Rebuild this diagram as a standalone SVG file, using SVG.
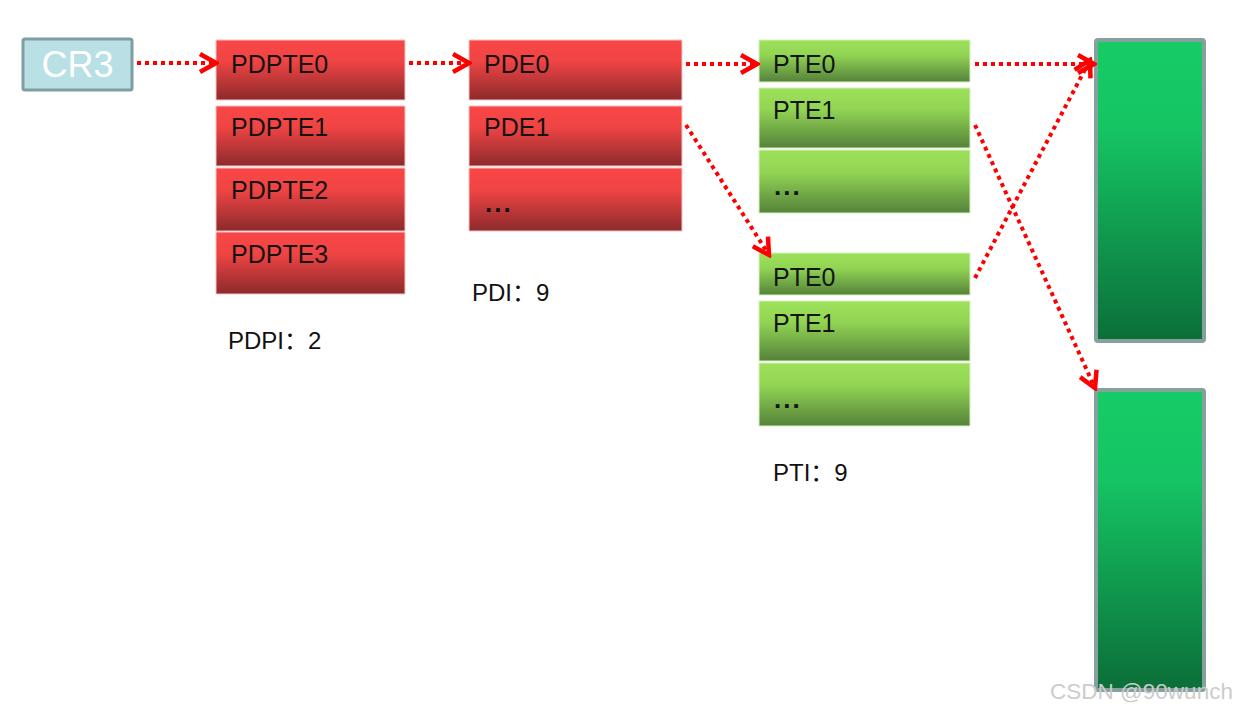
<svg xmlns="http://www.w3.org/2000/svg" width="1236" height="711" viewBox="0 0 1236 711">
<defs>
<linearGradient id="gRed" x1="0" y1="0" x2="0" y2="1">
<stop offset="0" stop-color="#fa4646"/>
<stop offset="0.35" stop-color="#f04444"/>
<stop offset="1" stop-color="#8c2a2c"/>
</linearGradient>
<linearGradient id="gGreen" x1="0" y1="0" x2="0" y2="1">
<stop offset="0" stop-color="#9de15a"/>
<stop offset="0.35" stop-color="#92d554"/>
<stop offset="1" stop-color="#55823a"/>
</linearGradient>
<linearGradient id="gPage" x1="0" y1="0" x2="0" y2="1">
<stop offset="0" stop-color="#16cc66"/>
<stop offset="0.3" stop-color="#15c464"/>
<stop offset="1" stop-color="#0b6e38"/>
</linearGradient>
<marker id="arr" markerUnits="userSpaceOnUse" markerWidth="22" markerHeight="24" viewBox="0 0 22 24" refX="19" refY="12" orient="auto">
<path d="M3,3 L19,12 L3,21" fill="none" stroke="#ff0000" stroke-width="4.5" stroke-linejoin="miter"/>
</marker>
</defs>
<style>
.red{fill:url(#gRed);stroke:#f4c4c4;stroke-width:1}
.grn{fill:url(#gGreen);stroke:#d8f0c0;stroke-width:1}
.page{fill:url(#gPage);stroke:#86a09e;stroke-width:4}
.t{font-family:"Liberation Sans",Arial,sans-serif;font-size:25px;fill:#141414}
.dots{font-family:"Liberation Sans",Arial,sans-serif;font-size:26px;font-weight:bold;fill:#141414;letter-spacing:2px}
.lbl{font-family:"Liberation Sans","Noto Sans CJK SC",sans-serif;font-size:24px;fill:#111}
.c{fill:none;stroke:#ff0000;stroke-width:4;stroke-dasharray:4 4;marker-end:url(#arr)}
</style>
<rect width="1236" height="711" fill="#ffffff"/>

<g id="cr3">
<rect x="23" y="39" width="109" height="51" rx="2" fill="#b9e0e4" stroke="#7f9ea1" stroke-width="3"/>
<text x="77.5" y="77" text-anchor="middle" font-family="Liberation Sans,Arial,sans-serif" font-size="36" fill="#ffffff">CR3</text>
</g>

<g id="pdpt">
<rect class="red" x="216" y="40" width="189" height="60"/>
<text class="t" x="231" y="73">PDPTE0</text>
<rect class="red" x="216" y="106" width="189" height="60"/>
<text class="t" x="231" y="136">PDPTE1</text>
<rect class="red" x="216" y="168" width="189" height="63"/>
<text class="t" x="231" y="199">PDPTE2</text>
<rect class="red" x="216" y="232" width="189" height="62"/>
<text class="t" x="231" y="263">PDPTE3</text>
</g>
<text id="pdpi" class="lbl" x="228" y="349">PDPI：2</text>

<g id="pd">
<rect class="red" x="469" y="40" width="213" height="60"/>
<text class="t" x="484" y="73">PDE0</text>
<rect class="red" x="469" y="106" width="213" height="60"/>
<text class="t" x="484" y="136">PDE1</text>
<rect class="red" x="469" y="168" width="213" height="63"/>
<text class="dots" x="485" y="212">...</text>
</g>
<text id="pdi" class="lbl" x="472" y="301">PDI：9</text>

<g id="pt1">
<rect class="grn" x="759" y="40" width="211" height="42"/>
<text class="t" x="773" y="73">PTE0</text>
<rect class="grn" x="759" y="88" width="211" height="60"/>
<text class="t" x="773" y="119">PTE1</text>
<rect class="grn" x="759" y="150" width="211" height="63"/>
<text class="dots" x="774" y="195">...</text>
</g>

<g id="pt2">
<rect class="grn" x="759" y="253" width="211" height="42"/>
<text class="t" x="773" y="286">PTE0</text>
<rect class="grn" x="759" y="301" width="211" height="60"/>
<text class="t" x="773" y="332">PTE1</text>
<rect class="grn" x="759" y="363" width="211" height="63"/>
<text class="dots" x="774" y="408">...</text>
</g>
<text id="pti" class="lbl" x="773" y="481">PTI：9</text>

<g id="page1">
<rect class="page" x="1096" y="40" width="108" height="301" rx="2"/>
</g>
<g id="page2">
<rect class="page" x="1096" y="390" width="108" height="300" rx="2"/>
</g>

<g id="connectors">
<line class="c" x1="137" y1="63" x2="216" y2="63"/>
<line class="c" x1="409" y1="63" x2="469" y2="63"/>
<line class="c" x1="686" y1="64" x2="757" y2="64"/>
<line class="c" x1="975" y1="64" x2="1094" y2="64"/>
<line class="c" x1="686" y1="125" x2="769" y2="255"/>
<line class="c" x1="975" y1="278" x2="1090" y2="60"/>
<line class="c" x1="975" y1="125" x2="1095" y2="388"/>
</g>

<text x="1050" y="699" font-family="Liberation Sans,Arial,sans-serif" font-size="22.5" fill="#cccccc">CSDN @90wunch</text>
</svg>
